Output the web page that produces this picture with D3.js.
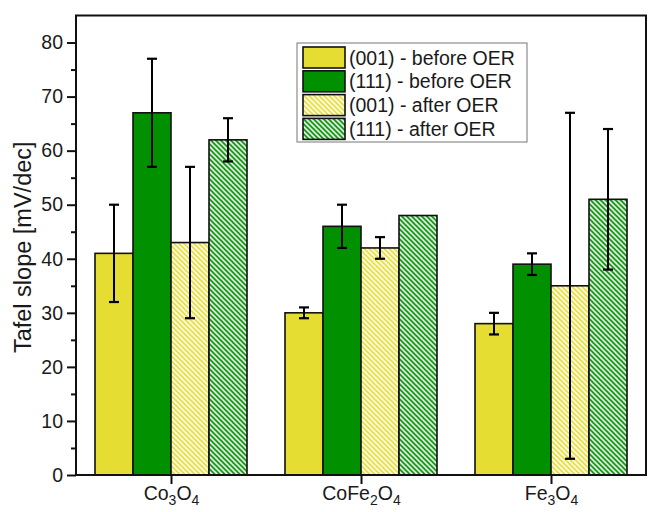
<!DOCTYPE html>
<html>
<head>
<meta charset="utf-8">
<script src="https://cdn.jsdelivr.net/npm/d3@7"></script>
<style>
	body { margin: 0; background: #fff; }
	svg { display: block; font-family: "Liberation Sans", Arial, sans-serif; }
</style>
</head>
<body>
<div id="chart"></div>
<script>

// data
var materials = ["Co3O4", "CoFe2O4", "Fe3O4"];
var seriesNames = ["(001) - before OER", "(111) - before OER", "(001) - after OER", "(111) - after OER"];
var seriesColors = ["#e6dd33", "#009000", "#e6dd33", "#009000"];
var seriesHatched = [false, false, true, true];

// values per series, one per material
var vals001Before = [41, 30, 28];
var vals111Before = [67, 46, 39];
var vals001After = [43, 42, 35];
var vals111After = [62, 48, 51];

// error bar ends (low / high)
var errLow001Before = [32, 29, 26];
var errHigh001Before = [50, 31, 30];
var errLow111Before = [57, 42, 37];
var errHigh111Before = [77, 50, 41];
var errLow001After = [29, 40, 3];
var errHigh001After = [57, 44, 67];
var errLow111After = [58, 48, 38];
var errHigh111After = [66, 48, 64];

var yTicks = [0, 10, 20, 30, 40, 50, 60, 70, 80];
var yMinorTicks = [5, 15, 25, 35, 45, 55, 65, 75];

var allVals = [vals001Before, vals111Before, vals001After, vals111After];
var allLow = [errLow001Before, errLow111Before, errLow001After, errLow111After];
var allHigh = [errHigh001Before, errHigh111Before, errHigh001After, errHigh111After];

var rows = [];
materials.forEach(function(m, i) {
	seriesNames.forEach(function(s, j) {
		rows.push({material: m, series: j, value: allVals[j][i], lo: allLow[j][i], hi: allHigh[j][i]});
	});
});

var margin = {top: 15.5, right: 2, bottom: 37, left: 76};
var width = 648 - margin.left - margin.right;
var height = 512 - margin.top - margin.bottom;

var svg = d3.select("#chart").append("svg")
	.attr("width", 648)
	.attr("height", 512);

// hatch patterns
var defs = svg.append("defs");
seriesColors.forEach(function(c, j) {
	if (!seriesHatched[j]) return;
	var p = defs.append("pattern")
		.attr("id", "hatch" + j)
		.attr("patternUnits", "userSpaceOnUse")
		.attr("width", 5).attr("height", 5);
	p.append("rect").attr("width", 5).attr("height", 5).attr("fill", "#fff");
	p.append("path")
		.attr("d", "M-1,-1 L6,6 M-1,4 L1,6 M4,-1 L6,1")
		.attr("stroke", c)
		.attr("stroke-width", 1.9);
});
function fillFor(j) {
	return seriesHatched[j] ? "url(#hatch" + j + ")" : seriesColors[j];
}

var g = svg.append("g")
	.attr("transform", "translate(" + margin.left + "," + margin.top + ")");

var x0 = d3.scaleBand().domain(materials).range([0, width]);
var x1 = d3.scaleBand().domain(d3.range(seriesNames.length))
	.range([x0.bandwidth() * 0.1, x0.bandwidth() * 0.9]);
var y = d3.scaleLinear().domain([0, 85]).range([height, 0]);

// bars
g.selectAll(".bar").data(rows).enter().append("rect")
	.attr("class", "bar")
	.attr("x", function(d) { return x0(d.material) + x1(d.series); })
	.attr("y", function(d) { return y(d.value); })
	.attr("width", x1.bandwidth())
	.attr("height", function(d) { return height - y(d.value); })
	.attr("fill", function(d) { return fillFor(d.series); })
	.attr("stroke", "#111")
	.attr("stroke-width", 1.6);

// error bars
var err = g.selectAll(".err").data(rows.filter(function(d) { return d.hi > d.lo; }))
	.enter().append("g").attr("class", "err")
	.attr("transform", function(d) {
		return "translate(" + (x0(d.material) + x1(d.series) + x1.bandwidth() / 2) + ",0)";
	});
err.append("line")
	.attr("y1", function(d) { return y(d.lo); })
	.attr("y2", function(d) { return y(d.hi); })
	.attr("stroke", "#000").attr("stroke-width", 2);
err.append("line")
	.attr("x1", -5).attr("x2", 5)
	.attr("y1", function(d) { return y(d.lo); })
	.attr("y2", function(d) { return y(d.lo); })
	.attr("stroke", "#000").attr("stroke-width", 2.2);
err.append("line")
	.attr("x1", -5).attr("x2", 5)
	.attr("y1", function(d) { return y(d.hi); })
	.attr("y2", function(d) { return y(d.hi); })
	.attr("stroke", "#000").attr("stroke-width", 2.2);

// frame
g.append("rect")
	.attr("width", width).attr("height", height)
	.attr("fill", "none").attr("stroke", "#111").attr("stroke-width", 2);

// y axis
var yAxis = g.append("g")
	.call(d3.axisLeft(y).tickValues(yTicks).tickSize(9).tickPadding(4));
yAxis.select(".domain").remove();
yAxis.selectAll("line").attr("stroke", "#111").attr("stroke-width", 2);
yAxis.selectAll("text")
	.attr("font-size", "19.5px").attr("fill", "#1a1a1a")
	.attr("font-family", "Liberation Sans, Arial, sans-serif");

var yMinor = g.append("g")
	.call(d3.axisLeft(y).tickValues(yMinorTicks).tickSize(5).tickFormat(""));
yMinor.select(".domain").remove();
yMinor.selectAll("line").attr("stroke", "#111").attr("stroke-width", 2);

// x axis
var xCenter = d3.scalePoint().domain(materials).range([x0.bandwidth() / 2, width - x0.bandwidth() / 2]);
var xAxis = g.append("g")
	.attr("transform", "translate(0," + height + ")")
	.call(d3.axisBottom(xCenter).tickSize(9).tickFormat(""));
xAxis.select(".domain").remove();
xAxis.selectAll("line").attr("stroke", "#111").attr("stroke-width", 2);

// formula labels with subscripts
xAxis.selectAll(".tick").append("text")
	.attr("y", 30)
	.attr("text-anchor", "middle")
	.attr("fill", "#1a1a1a")
	.attr("font-size", "19.5px")
	.each(function(d) {
		var t = d3.select(this);
		var parts = d.match(/[A-Za-z]+|\d+/g);
		parts.forEach(function(p) {
			if (/\d/.test(p)) {
				t.append("tspan").attr("font-size", "14px").attr("dy", 5).text(p);
			} else {
				t.append("tspan").attr("dy", t.selectAll("tspan").size() ? -5 : 0).text(p);
			}
		});
	});

// y title
svg.append("text")
	.attr("transform", "translate(31," + (margin.top + height / 2 + 2) + ") rotate(-90)")
	.attr("text-anchor", "middle")
	.attr("font-size", "23.5px")
	.attr("fill", "#1a1a1a")
	.text("Tafel slope [mV/dec]");

// legend
var legend = svg.append("g").attr("transform", "translate(297,43)");
legend.append("rect")
	.attr("width", 230).attr("height", 99)
	.attr("fill", "#fff").attr("stroke", "#777").attr("stroke-width", 1);
var li = legend.selectAll(".li").data(seriesNames).enter().append("g")
	.attr("transform", function(d, i) { return "translate(6," + (4 + i * 23.8) + ")"; });
li.append("rect")
	.attr("width", 42).attr("height", 21)
	.attr("fill", function(d, i) { return fillFor(i); })
	.attr("stroke", "#111").attr("stroke-width", 1.6);
li.append("text")
	.attr("x", 46).attr("y", 17.5)
	.attr("font-size", "19.5px").attr("fill", "#1a1a1a")
	.text(function(d) { return d; });

</script>
</body>
</html>
